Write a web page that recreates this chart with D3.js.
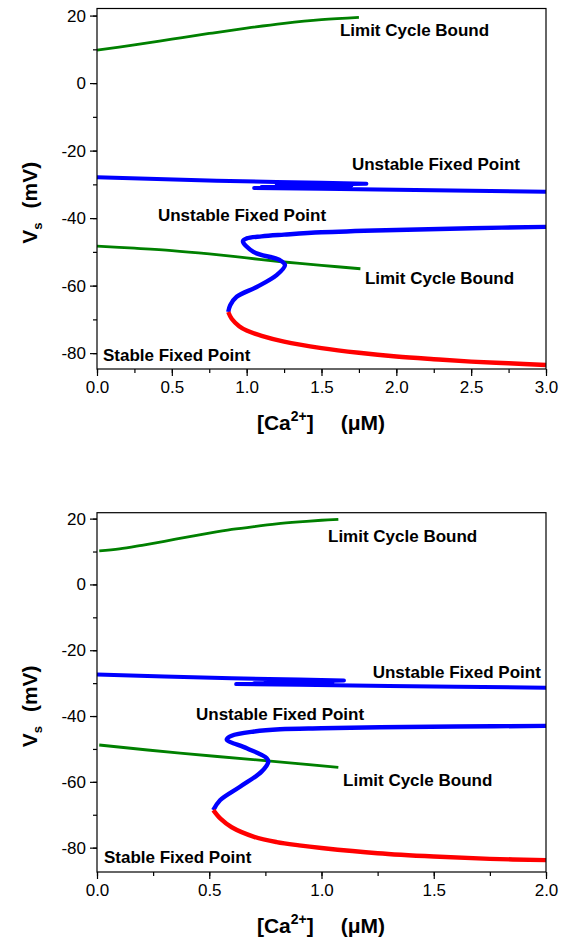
<!DOCTYPE html>
<html>
<head>
<meta charset="utf-8">
<script src="https://cdn.jsdelivr.net/npm/d3@7"></script>
<style>
  body { margin: 0; background: #fff; }
  text { font-family: "Liberation Sans", Arial, sans-serif; }
</style>
</head>
<body>
<div id="plot"></div>
<script>
// ---- data: [Ca2+] (uM), Vs (mV) ----

// top panel (Ca 0 - 3 uM)
var top_lc_upper = [[0,9.8],[0.25,11.3],[0.5,13.0],[0.75,14.7],[1.0,16.3],[1.25,17.7],[1.5,18.8],[1.75,19.5]];
var top_lc_lower = [[0,-48.3],[0.25,-48.9],[0.5,-49.6],[0.75,-50.6],[1.0,-51.8],[1.25,-53.0],[1.5,-54.0],[1.76,-55.0]];
var top_unst_upper = [[0,-27.9],[0.4,-28.4],[0.8,-28.9],[1.2,-29.3],[1.5,-29.5],[1.8,-29.8],[1.2,-30.3],[1.7,-30.3],
                      [1.1,-30.8],[1.6,-30.9],[1.05,-31.1],[1.5,-31.3],[2.0,-31.6],[2.5,-31.9],[3.0,-32.2]];
var top_unst_s = [[3.0,-42.6],[2.5,-43.0],[2.0,-43.5],[1.5,-44.2],[1.25,-44.9],[1.1,-45.4],[1.0,-46.0],[0.975,-46.8],
                  [1.045,-50.0],[1.22,-52.4],[1.256,-53.9],[1.2,-56.9],[1.067,-60.4],[0.933,-63.3],[0.89,-65.8],[0.877,-67.8]];
var top_stable = [[0.877,-67.8],[0.9,-69.8],[0.95,-72.0],[1.0,-73.3],[1.1,-74.9],[1.25,-76.6],[1.5,-78.5],[1.75,-79.9],
                  [2.0,-81.0],[2.25,-81.8],[2.5,-82.5],[2.75,-83.0],[3.0,-83.5]];

// bottom panel (Ca 0 - 2 uM)
var bot_lc_upper = [[0.01,10.2],[0.1,10.8],[0.2,11.9],[0.3,13.1],[0.4,14.4],[0.5,15.6],[0.6,16.7],[0.7,17.6],
                    [0.8,18.4],[0.9,19.0],[1.0,19.5],[1.075,19.8]];
var bot_lc_lower = [[0.01,-48.8],[0.37,-51.3],[0.76,-53.6],[1.075,-55.6]];
var bot_unst_upper = [[0,-27.4],[0.3,-28.0],[0.6,-28.5],[0.9,-28.9],[1.1,-29.2],[0.75,-29.7],[1.05,-29.6],[0.7,-30.0],
                      [1.0,-30.1],[0.62,-30.3],[0.9,-30.5],[1.3,-30.9],[1.6,-31.1],[2.0,-31.4]];
var bot_unst_s = [[2.0,-43.0],[1.6,-43.2],[1.26,-43.4],[1.0,-43.7],[0.815,-44.0],[0.7,-44.7],[0.6,-46.0],[0.578,-47.1],
                  [0.667,-49.8],[0.756,-52.8],[0.763,-53.9],[0.733,-56.9],[0.637,-61.5],[0.548,-65.6],[0.518,-68.6]];
var bot_stable = [[0.518,-68.6],[0.55,-71.2],[0.6,-73.8],[0.7,-76.7],[0.8,-78.3],[0.9,-79.3],[1.0,-80.1],
                  [1.25,-81.7],[1.5,-82.7],[1.75,-83.4],[2.0,-83.8]];

// tick values
var y_major = [-80,-60,-40,-20,0,20];
var y_minor = [-80,-70,-60,-50,-40,-30,-20,-10,0,10,20];
var top_x_major = [0,0.5,1.0,1.5,2.0,2.5,3.0];
var top_x_minor = [0,0.25,0.5,0.75,1.0,1.25,1.5,1.75,2.0,2.25,2.5,2.75,3.0];
var bot_x_major = [0,0.5,1.0,1.5,2.0];
var bot_x_minor = [0,0.25,0.5,0.75,1.0,1.25,1.5,1.75,2.0];

// annotation text and where it sits (data coords, left end / baseline)
var top_labels = [["Limit Cycle Bound",1.623,13.9],["Unstable Fixed Point",1.703,-25.8],["Unstable Fixed Point",0.407,-40.9],
                  ["Limit Cycle Bound",1.79,-59.6],["Stable Fixed Point",0.04,-82.4]];
var bot_labels = [["Limit Cycle Bound",1.029,12.9],["Unstable Fixed Point",1.228,-28.3],["Unstable Fixed Point",0.441,-41.2],
                  ["Limit Cycle Bound",1.096,-61.2],["Stable Fixed Point",0.031,-84.6]];

var W = 563, H = 941;
var svg = d3.select("#plot").append("svg")
    .attr("width", W)
    .attr("height", H);

function drawPanel(p) {
    var x_scale = d3.scaleLinear().domain(p.xdom).range([97, 546]);
    var y_scale = d3.scaleLinear().domain(p.ydom).range([p.bottom, p.top]);

    var g = svg.append("g");

    var line_lin = d3.line()
        .x(function (d) { return x_scale(d[0]); })
        .y(function (d) { return y_scale(d[1]); });
    var line_smooth = d3.line()
        .curve(d3.curveCatmullRom)
        .x(function (d) { return x_scale(d[0]); })
        .y(function (d) { return y_scale(d[1]); });

    // curves
    var curves = [
        [p.lc_upper, "#008000", 2.8, line_smooth],
        [p.lc_lower, "#008000", 2.8, line_smooth],
        [p.unst_upper, "#0000ff", 4, line_lin],
        [p.unst_s, "#0000ff", 4.4, line_smooth],
        [p.stable, "#ff0000", 4.4, line_smooth]
    ];
    curves.forEach(function (c) {
        g.append("path")
            .attr("d", c[3](c[0]))
            .attr("fill", "none")
            .attr("stroke", c[1])
            .attr("stroke-width", c[2])
            .attr("stroke-linejoin", "round");
    });

    // frame
    g.append("rect")
        .attr("x", 97).attr("y", p.top)
        .attr("width", 449).attr("height", p.bottom - p.top)
        .attr("fill", "none").attr("stroke", "#000").attr("stroke-width", 1.2);

    // axes - major and minor ticks
    var xAxis = d3.axisBottom(x_scale).tickValues(p.xmajor).tickSize(7).tickSizeOuter(0).tickPadding(5)
        .tickFormat(function (d) { return d.toFixed(1); });
    var xMinor = d3.axisBottom(x_scale).tickValues(p.xminor).tickSize(4).tickSizeOuter(0).tickFormat("");
    var yAxis = d3.axisLeft(y_scale).tickValues(y_major).tickSize(7).tickSizeOuter(0).tickPadding(4)
        .tickFormat(function (d) { return String(d); });
    var yMinor = d3.axisLeft(y_scale).tickValues(y_minor).tickSize(4).tickSizeOuter(0).tickFormat("");

    [[xMinor, "translate(0," + p.bottom + ")"], [xAxis, "translate(0," + p.bottom + ")"],
     [yMinor, "translate(97,0)"], [yAxis, "translate(97,0)"]].forEach(function (a) {
        var ax = g.append("g").attr("transform", a[1]).call(a[0]);
        ax.select(".domain").remove();
        ax.selectAll("line").attr("stroke", "#000").attr("stroke-width", 1.2);
        ax.selectAll("text").attr("fill", "#000").style("font-size", "17px")
            .style("font-family", "'Liberation Sans', Arial, sans-serif");
    });

    // annotations
    p.labels.forEach(function (l) {
        g.append("text")
            .attr("x", x_scale(l[1]))
            .attr("y", y_scale(l[2]))
            .attr("font-size", 17)
            .attr("font-weight", "bold")
            .text(l[0]);
    });

    // x title  [Ca2+]  (uM)
    var xt = g.append("text")
        .attr("x", 321)
        .attr("y", p.bottom + 61)
        .attr("text-anchor", "middle")
        .attr("font-size", 21)
        .attr("font-weight", "bold");
    xt.append("tspan").text("[Ca");
    xt.append("tspan").attr("font-size", 14).attr("dy", -9).text("2+");
    xt.append("tspan").attr("dy", 9).text("]");
    xt.append("tspan").attr("dx", 27).text("(\u03bcM)");

    // y title  Vs  (mV)
    var cy = (p.top + p.bottom) / 2 + 14;
    var yt = g.append("text")
        .attr("transform", "translate(37," + cy + ") rotate(-90)")
        .attr("text-anchor", "middle")
        .attr("font-size", 21)
        .attr("font-weight", "bold");
    yt.append("tspan").text("V");
    yt.append("tspan").attr("font-size", 13).attr("dy", 5).text("s");
    yt.append("tspan").attr("dy", -5).attr("dx", 14).text("(mV)");
}

drawPanel({
    top: 8.5, bottom: 369, xdom: [0, 3], ydom: [-84.7, 22.1],
    xmajor: top_x_major, xminor: top_x_minor,
    lc_upper: top_lc_upper, lc_lower: top_lc_lower,
    unst_upper: top_unst_upper, unst_s: top_unst_s, stable: top_stable,
    labels: top_labels
});
drawPanel({
    top: 512.7, bottom: 872, xdom: [0, 2], ydom: [-87.4, 21.8],
    xmajor: bot_x_major, xminor: bot_x_minor,
    lc_upper: bot_lc_upper, lc_lower: bot_lc_lower,
    unst_upper: bot_unst_upper, unst_s: bot_unst_s, stable: bot_stable,
    labels: bot_labels
});
</script>
</body>
</html>
